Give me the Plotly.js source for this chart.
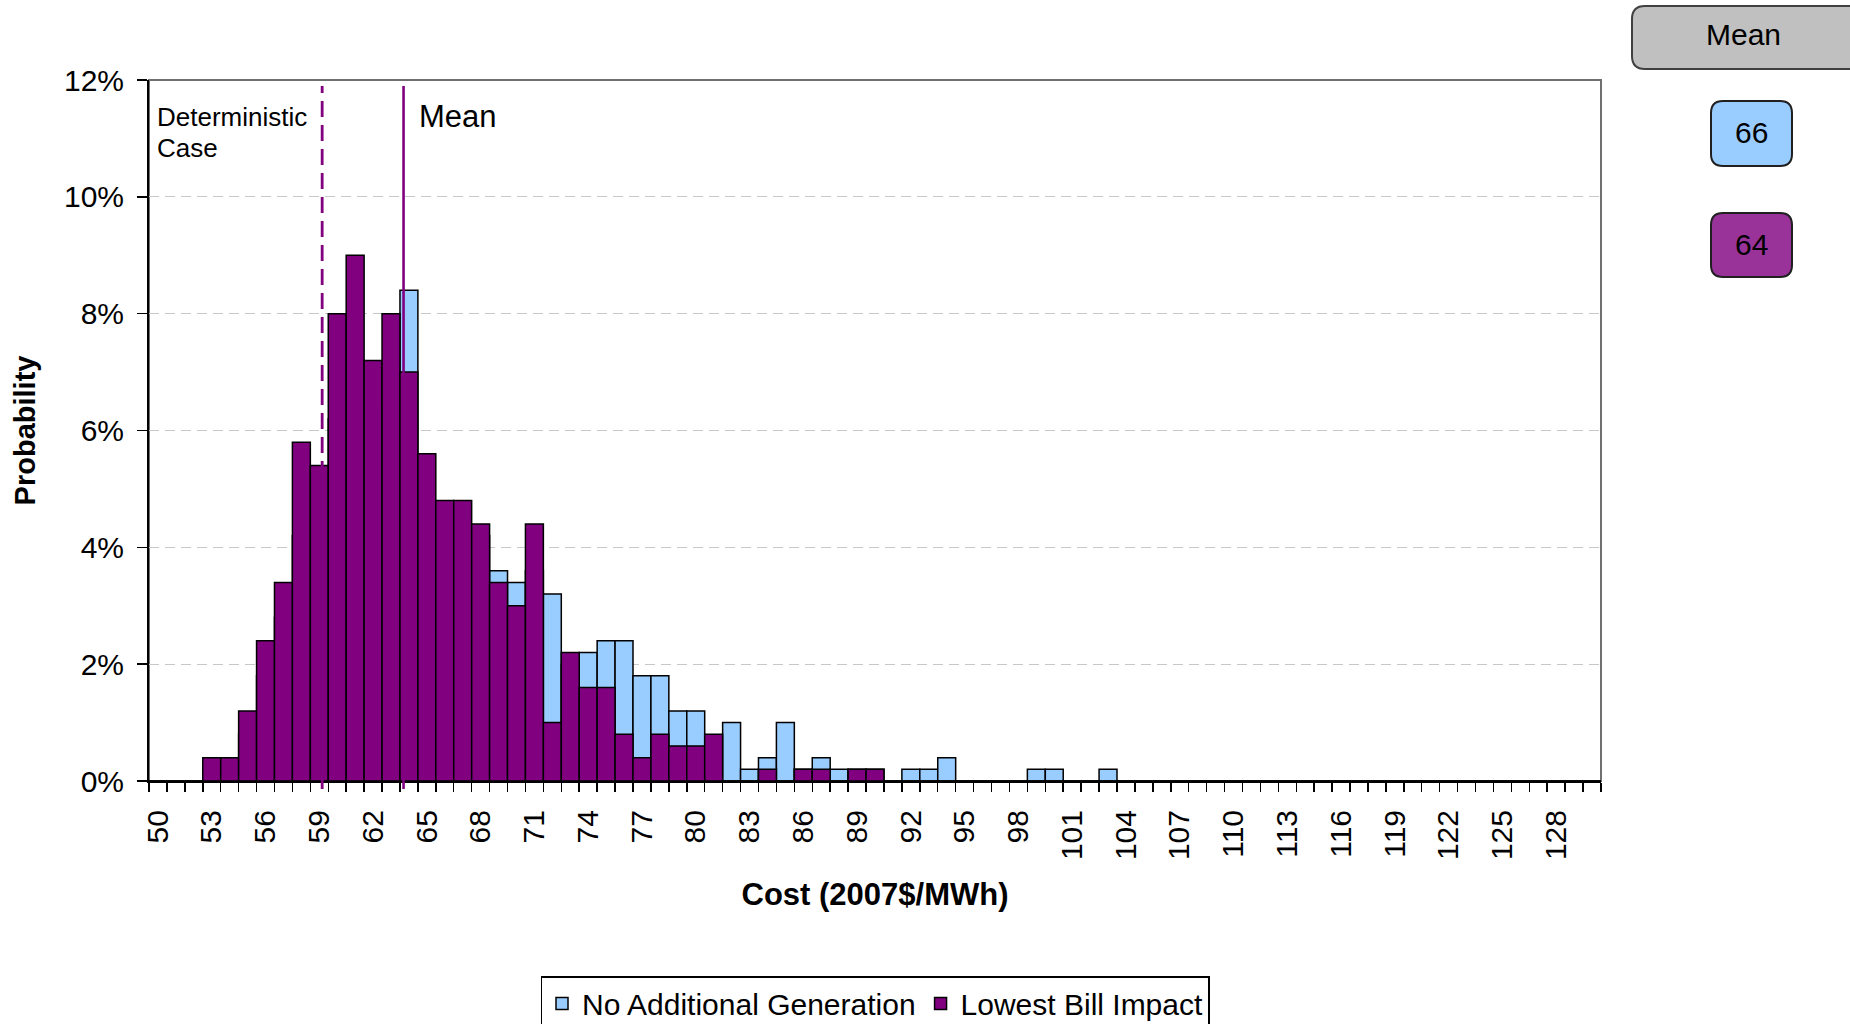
<!DOCTYPE html>
<html><head><meta charset="utf-8">
<script src="https://cdn.plot.ly/plotly-3.0.1.min.js"></script>
<style>html,body{margin:0;padding:0;background:#fff;overflow:hidden}</style>
</head><body><div id="chart" style="width:1850px;height:1024px"></div>
<script>
// ---- data ----
const costBins = [50,51,52,53,54,55,56,57,58,59,60,61,62,63,64,65,66,67,68,69,70,71,72,73,74,75,76,77,78,79,80,81,82,83,84,85,86,87,88,89,90,91,92,93,94,95,96,97,98,99,100,101,102,103,104,105,106,107,108,109,110,111,112,113,114,115,116,117,118,119,120,121,122,123,124,125,126,127,128,129,130];
const noAdditionalGeneration = [0,0,0,0.2,0.4,0.8,1.8,2.8,4.2,4.4,
  6.2,7.0,6.0,6.4,8.4,4.8,4.0,3.8,4.2,3.6,
  3.4,3.6,3.2,2.0,2.2,2.4,2.4,1.8,1.8,1.2,
  1.2,0.6,1.0,0.2,0.4,1.0,0.2,0.4,0.2,0.2,
  0.2,0,0.2,0.2,0.4,0,0,0,0,0.2,
  0.2,0,0,0.2,0,0,0,0,0,0,
  0,0,0,0,0,0,0,0,0,0,
  0,0,0,0,0,0,0,0,0,0,
  0];
const lowestBillImpact = [0,0,0,0.4,0.4,1.2,2.4,3.4,5.8,5.4,
  8.0,9.0,7.2,8.0,7.0,5.6,4.8,4.8,4.4,3.4,
  3.0,4.4,1.0,2.2,1.6,1.6,0.8,0.4,0.8,0.6,
  0.6,0.8,0,0,0.2,0,0.2,0.2,0,0.2,
  0.2,0,0,0,0,0,0,0,0,0,
  0,0,0,0,0,0,0,0,0,0,
  0,0,0,0,0,0,0,0,0,0,
  0,0,0,0,0,0,0,0,0,0,
  0];
const seriesNames = ['No Additional Generation', 'Lowest Bill Impact'];
const seriesMeans = [66, 64];
const xTickValues = [50,53,56,59,62,65,68,71,74,77,80,83,86,89,92,95,98,101,104,107,110,113,116,119,122,125,128];
const yTickValues = [0,2,4,6,8,10,12];
const yTickLabels = ['0%','2%','4%','6%','8%','10%','12%'];
const deterministicCase = 59.16;
const meanMarker = 63.7;

// ---- styling / layout helpers ----
const FONT = 'Liberation Sans, Arial, sans-serif';
const W = 1850, H = 1024;
const M = {l: 149, r: 249, t: 80, b: 243, autoexpand: false};
const PW = W - M.l - M.r, PH = H - M.t - M.b;
const px = x => (x - M.l) / PW;
const py = y => (M.t + PH - y) / PH;
function roundRect(x0, y0, x1, y1, r) {
  const P = (x, y) => px(x).toFixed(5) + ',' + py(y).toFixed(5);
  return 'M' + P(x0 + r, y0) + ' L' + P(x1 - r, y0) + ' Q' + P(x1, y0) + ' ' + P(x1, y0 + r) +
    ' L' + P(x1, y1 - r) + ' Q' + P(x1, y1) + ' ' + P(x1 - r, y1) +
    ' L' + P(x0 + r, y1) + ' Q' + P(x0, y1) + ' ' + P(x0, y1 - r) +
    ' L' + P(x0, y0 + r) + ' Q' + P(x0, y0) + ' ' + P(x0 + r, y0) + ' Z';
}
const BLUE = '#99ccff', PURPLE = '#800080';

const traces = [
  {type: 'bar', name: seriesNames[0], x: costBins, y: noAdditionalGeneration, width: 1,
   marker: {color: BLUE, line: {color: '#000', width: 1.5}}, hoverinfo: 'x+y+name'},
  {type: 'bar', name: seriesNames[1], x: costBins, y: lowestBillImpact, width: 1,
   marker: {color: PURPLE, line: {color: '#000', width: 1.5}}, hoverinfo: 'x+y+name'}
];

const layout = {
  width: W, height: H,
  margin: M,
  paper_bgcolor: '#fff', plot_bgcolor: '#fff',
  font: {family: FONT, size: 30, color: '#000'},
  barmode: 'overlay', bargap: 0,
  showlegend: true,
  legend: {orientation: 'h', x: 0.5, xanchor: 'center', y: py(976), yanchor: 'top',
    bordercolor: '#000', borderwidth: 1.5, bgcolor: '#fff', font: {size: 30, family: FONT},
    traceorder: 'normal', itemwidth: 30},
  xaxis: {
    range: [49.5, 130.5], tickmode: 'array', tickvals: xTickValues, ticktext: xTickValues.map(String),
    tickangle: -90, ticks: 'outside', ticklen: 9, tickcolor: 'rgba(0,0,0,0)', ticklabelstandoff: 6,
    tickfont: {size: 30, family: FONT},
    minor: {tick0: 49.5, dtick: 1, ticks: 'outside', ticklen: 9, tickcolor: '#000', tickwidth: 1.5, showgrid: false},
    showline: true, linecolor: '#000', linewidth: 2, showgrid: false, zeroline: false, automargin: false,
    title: {text: 'Cost (2007$/MWh)', font: {size: 31, family: FONT, weight: 'bold'}, standoff: 24},
    fixedrange: true
  },
  yaxis: {
    range: [0, 12], tickmode: 'array', tickvals: yTickValues, ticktext: yTickLabels,
    ticks: 'outside', ticklen: 10, tickcolor: '#000', tickwidth: 1.5, ticklabelstandoff: 7,
    tickfont: {size: 30, family: FONT},
    showline: true, linecolor: '#000', linewidth: 2, automargin: false,
    showgrid: true, gridcolor: '#c8c8c8', gridwidth: 1.2, griddash: '10px,6px', zeroline: false,
    title: {text: 'Probability', font: {size: 29, family: FONT, weight: 'bold'}, standoff: 20},
    fixedrange: true
  },
  shapes: [
    {type: 'rect', xref: 'paper', yref: 'paper', x0: 0, x1: 1, y0: 0, y1: 1,
     line: {color: '#707070', width: 2}, layer: 'below'},
    {type: 'line', xref: 'x', yref: 'paper', x0: deterministicCase, x1: deterministicCase,
     y0: py(789), y1: py(86), line: {color: PURPLE, width: 2.8, dash: '16px,8px'}},
    {type: 'line', xref: 'x', yref: 'paper', x0: meanMarker, x1: meanMarker,
     y0: py(789), y1: py(86), line: {color: PURPLE, width: 2.6}},
    {type: 'path', xref: 'paper', yref: 'paper', path: roundRect(1632, 6, 1866, 69, 13),
     fillcolor: '#c0c0c0', line: {color: '#404040', width: 2}},
    {type: 'path', xref: 'paper', yref: 'paper', path: roundRect(1711, 101, 1792, 166, 12),
     fillcolor: BLUE, line: {color: '#202020', width: 2}},
    {type: 'path', xref: 'paper', yref: 'paper', path: roundRect(1711, 213, 1792, 277, 12),
     fillcolor: '#993399', line: {color: '#202020', width: 2}}
  ],
  annotations: [
    {xref: 'paper', yref: 'paper', x: px(155), y: py(117), xanchor: 'left', yanchor: 'middle',
     text: 'Deterministic', showarrow: false, font: {size: 26, family: FONT}},
    {xref: 'paper', yref: 'paper', x: px(155), y: py(148), xanchor: 'left', yanchor: 'middle',
     text: 'Case', showarrow: false, font: {size: 26, family: FONT}},
    {xref: 'paper', yref: 'paper', x: px(417), y: py(117), xanchor: 'left', yanchor: 'middle',
     text: 'Mean', showarrow: false, font: {size: 31, family: FONT}},
    {xref: 'paper', yref: 'paper', x: px(1743), y: py(35), xanchor: 'center', yanchor: 'middle',
     text: 'Mean', showarrow: false, font: {size: 30, family: FONT}},
    {xref: 'paper', yref: 'paper', x: px(1751), y: py(132), xanchor: 'center', yanchor: 'middle',
     text: String(seriesMeans[0]), showarrow: false, font: {size: 30, family: FONT}},
    {xref: 'paper', yref: 'paper', x: px(1751), y: py(244), xanchor: 'center', yanchor: 'middle',
     text: String(seriesMeans[1]), showarrow: false, font: {size: 30, family: FONT}}
  ]
};

Plotly.newPlot('chart', traces, layout, {displayModeBar: false, staticPlot: true});
</script>
</body></html>
